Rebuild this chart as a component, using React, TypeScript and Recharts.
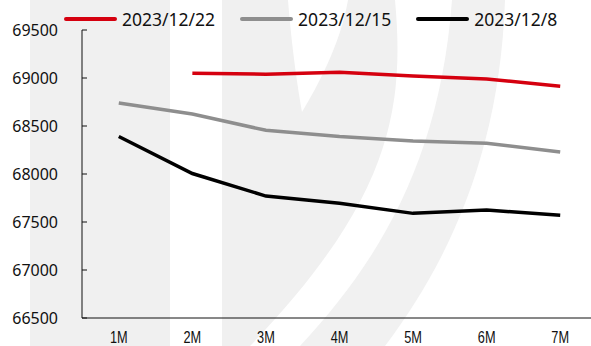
import { Legend, Line, LineChart, XAxis, YAxis } from 'recharts';

const categories = ['1M', '2M', '3M', '4M', '5M', '6M', '7M'];
const dec22 = [null, 69050, 69040, 69060, 69020, 68990, 68915];
const dec15 = [68740, 68625, 68455, 68390, 68345, 68320, 68230];
const dec8 = [68390, 68005, 67770, 67695, 67590, 67625, 67570];
const yTicks = [66500, 67000, 67500, 68000, 68500, 69000, 69500];
const boundaryTicks = [0, 1, 2, 3, 4, 5, 6, 7];

const series = [
  { key: 'dec22', name: '2023/12/22', color: '#d5000f' },
  { key: 'dec15', name: '2023/12/15', color: '#8e8e8e' },
  { key: 'dec8', name: '2023/12/8', color: '#000000' },
];

const data = categories.map((month, i) => ({
  month,
  pos: i + 0.5,
  dec22: dec22[i],
  dec15: dec15[i],
  dec8: dec8[i],
}));

const font = '"Noto Sans", "Liberation Sans", sans-serif';

const MonthTick = ({ x, y, payload }: any) => (
  <text
    x={x}
    y={y}
    dy="0.71em"
    textAnchor="middle"
    fontSize={17}
    fontFamily='"Liberation Sans", sans-serif'
    fill="#111"
    transform={`translate(${x} 0) scale(0.75 1) translate(${-x} 0)`}
  >
    {payload.value}
  </text>
);

const LegendRow = () => (
  <div style={{ display: 'flex', alignItems: 'center', gap: 25 }}>
    {series.map((s) => (
      <div key={s.key} style={{ display: 'flex', alignItems: 'center' }}>
        <span
          style={{
            display: 'inline-block',
            width: 53,
            height: 4,
            borderRadius: 2,
            background: s.color,
            marginRight: 5,
          }}
        />
        <span style={{ fontFamily: font, fontSize: 17.5, color: '#111' }}>{s.name}</span>
      </div>
    ))}
  </div>
);

// faint logo shapes sitting behind the plot
const Backdrop = () => (
  <svg
    width={591}
    height={346}
    style={{ position: 'absolute', left: 0, top: 0 }}
  >
    <rect x={30} y={0} width={140} height={346} fill="#f0f0f0" />
    <path d="M222 0 L395 0 C 405 110, 390 200, 250 346 L222 346 Z" fill="#f0f0f0" />
    <path d="M288 0 C 292 50, 298 90, 302 112 C 318 85, 340 45, 348 0 Z" fill="#ffffff" />
    <path
      d="M452 0 L505 0 C 500 150, 450 260, 385 346 L 300 346 C 380 260, 440 160, 452 0 Z"
      fill="#f1f1f1"
    />
  </svg>
);

export default function App() {
  return (
    <div
      style={{
        position: 'absolute',
        left: 0,
        top: 0,
        width: 591,
        height: 346,
        overflow: 'hidden',
        background: '#fff',
      }}
    >
      <Backdrop />
      <div style={{ position: 'absolute', left: 0, top: 0 }}>
        <LineChart
          width={597}
          height={346}
          data={data}
          margin={{ top: 30, right: 0, bottom: 0, left: 0 }}
        >
          {/* axis 0 sits against the plot: it carries the line and the
              tick marks, which fall between categories */}
          <XAxis
            xAxisId={0}
            dataKey="pos"
            type="number"
            domain={[0, 7]}
            ticks={boundaryTicks}
            allowDataOverflow
            height={1}
            tick={false}
            tickSize={-5}
            stroke="#111"
          />
          <XAxis
            xAxisId={1}
            dataKey="month"
            scale="band"
            height={27}
            axisLine={false}
            tickLine={false}
            tickMargin={6}
            tick={<MonthTick />}
            interval={0}
          />
          <YAxis
            domain={[66500, 69500]}
            ticks={yTicks}
            width={82}
            tickSize={-5}
            tickMargin={29}
            stroke="#111"
            tick={{ fill: '#111', fontSize: 16, fontFamily: font }}
            interval={0}
          />
          <Legend
            layout="horizontal"
            verticalAlign="middle"
            align="center"
            wrapperStyle={{ top: 7, left: 64, width: 520 }}
            content={<LegendRow />}
          />
          {series.map((s) => (
            <Line
              key={s.key}
              xAxisId={1}
              dataKey={s.key}
              name={s.name}
              stroke={s.color}
              strokeWidth={3.5}
              dot={false}
              type="linear"
              isAnimationActive={false}
            />
          ))}
        </LineChart>
      </div>
    </div>
  );
}
